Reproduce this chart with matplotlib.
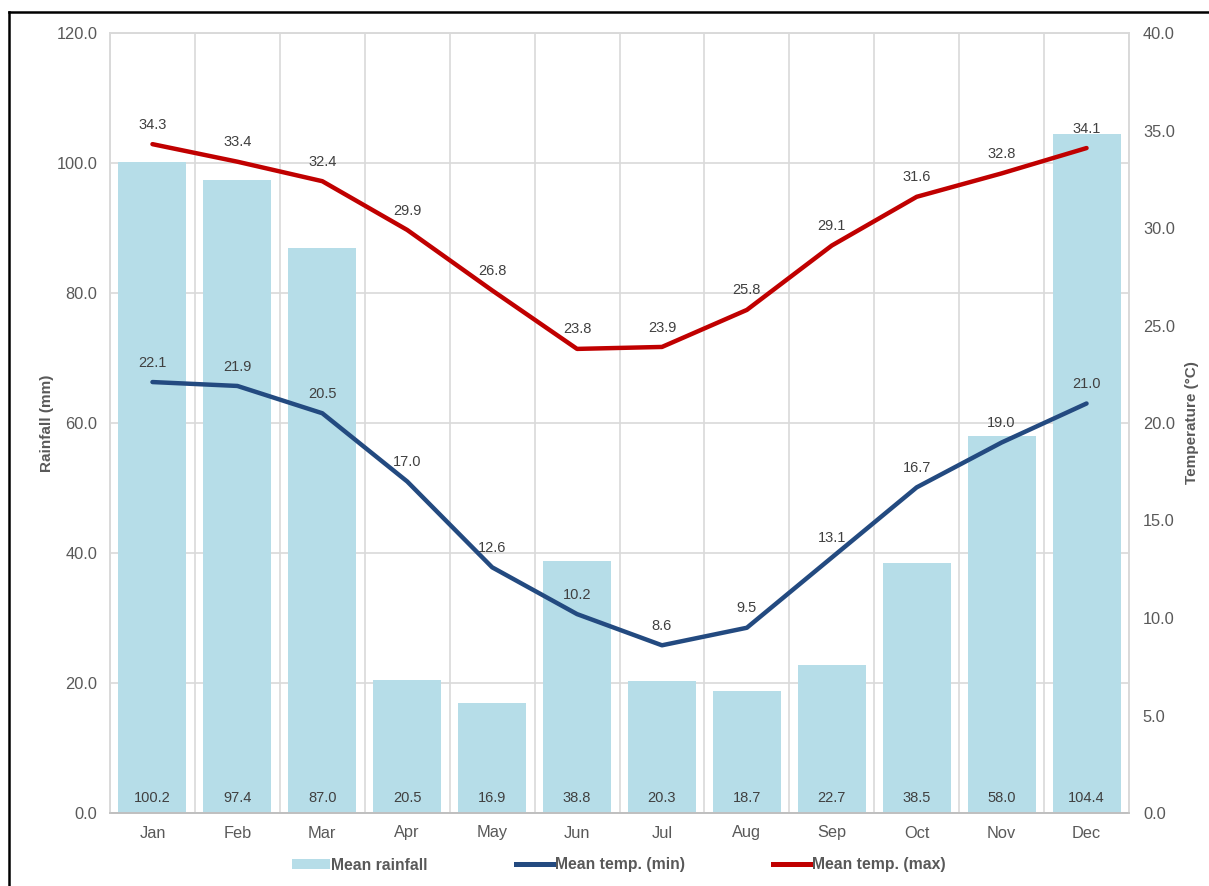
import matplotlib
matplotlib.use("Agg")
import matplotlib.pyplot as plt
from matplotlib.lines import Line2D
from matplotlib.patches import Patch
import numpy as np

plt.rcParams['font.family'] = ['Liberation Sans', 'DejaVu Sans']

months = ["Jan", "Feb", "Mar", "Apr", "May", "Jun", "Jul", "Aug", "Sep", "Oct", "Nov", "Dec"]
rainfall = [100.2, 97.4, 87.0, 20.5, 16.9, 38.8, 20.3, 18.7, 22.7, 38.5, 58.0, 104.4]
temp_min = [22.1, 21.9, 20.5, 17.0, 12.6, 10.2, 8.6, 9.5, 13.1, 16.7, 19.0, 21.0]
temp_max = [34.3, 33.4, 32.4, 29.9, 26.8, 23.8, 23.9, 25.8, 29.1, 31.6, 32.8, 34.1]

BAR_C = "#b6dde8"
MIN_C = "#234a80"
MAX_C = "#c00000"
GRID_C = "#d9d9d9"
TICK_C = "#595959"
LABEL_C = "#404040"

fig = plt.figure(figsize=(12.09, 8.86), dpi=100)
ax = fig.add_axes([110/1209, 1 - 813/886, (1129-110)/1209, (813-33)/886])
ax2 = ax.twinx()

x = np.arange(len(months))

# rainfall bars on the left axis
ax.bar(x, rainfall, width=0.8, color=BAR_C, zorder=2)
for xi, v in zip(x, rainfall):
    ax.annotate(f"{v:.1f}", (xi, 0), xytext=(0, 11), textcoords="offset points",
                ha="center", va="center", fontsize=10.5, color=LABEL_C, zorder=3)

ax.set_xlim(-0.5, 11.5)
ax.set_ylim(0, 120)
ax.set_yticks(np.arange(0, 121, 20))
ax.set_yticklabels([f"{t:.1f}" for t in np.arange(0, 121, 20)])
ax.set_xticks(x)
ax.set_xticklabels(months)
ax.set_xticks(np.arange(-0.5, 12, 1), minor=True)
ax.set_axisbelow(True)
ax.grid(axis="y", which="major", color=GRID_C, linewidth=1.2)
ax.grid(axis="x", which="minor", color=GRID_C, linewidth=1.2)
ax.tick_params(axis="both", which="both", length=0, colors=TICK_C, labelsize=11.8)
ax.tick_params(axis="y", pad=9)
ax.tick_params(axis="x", pad=9)
ax.set_ylabel("Rainfall (mm)", fontsize=11, fontweight="bold", color=TICK_C, labelpad=2)

# temperature lines on the right axis
ax2.plot(x, temp_min, color=MIN_C, linewidth=3.2, solid_capstyle="round", zorder=4)
ax2.plot(x, temp_max, color=MAX_C, linewidth=3.2, solid_capstyle="round", zorder=4)
for series in (temp_min, temp_max):
    for xi, v in zip(x, series):
        ax2.annotate(f"{v:.1f}", (xi, v), xytext=(0, 14), textcoords="offset points",
                     ha="center", va="center", fontsize=10.5, color=LABEL_C)

ax2.set_ylim(0, 40)
ax2.set_yticks(np.arange(0, 41, 5))
ax2.set_yticklabels([f"{t:.1f}" for t in np.arange(0, 41, 5)])
ax2.tick_params(axis="y", length=0, colors=TICK_C, labelsize=11.8, pad=10)
ax2.set_ylabel("Temperature (°C)", fontsize=11, fontweight="bold", color=TICK_C,
               rotation=90, labelpad=7)

for a in (ax, ax2):
    for s in a.spines.values():
        s.set_color(GRID_C)
        s.set_linewidth(1.2)
    a.spines["bottom"].set_color("#bfbfbf")

handles = [
    Patch(facecolor=BAR_C, edgecolor="none"),
    Line2D([0], [0], color=MIN_C, linewidth=3.6),
    Line2D([0], [0], color=MAX_C, linewidth=3.6),
]
labels = ["Mean rainfall", "Mean temp. (min)", "Mean temp. (max)"]
leg = fig.legend(handles, labels, loc="center", bbox_to_anchor=(619/1209, 1 - 865/886),
                 ncol=3, frameon=False, handlelength=2.4, handleheight=0.6,
                 handletextpad=0.1, columnspacing=5.6,
                 prop={"size": 11.3, "weight": "bold"})
for t in leg.get_texts():
    t.set_color(TICK_C)

# outer frame along the top and left edges
fig.add_artist(Line2D([9/1209, 1], [1 - 12/886, 1 - 12/886], transform=fig.transFigure,
                      color="black", linewidth=1.8))
fig.add_artist(Line2D([9/1209, 9/1209], [0, 1 - 12/886], transform=fig.transFigure,
                      color="black", linewidth=1.8))

fig.savefig("out.png", dpi=100)
